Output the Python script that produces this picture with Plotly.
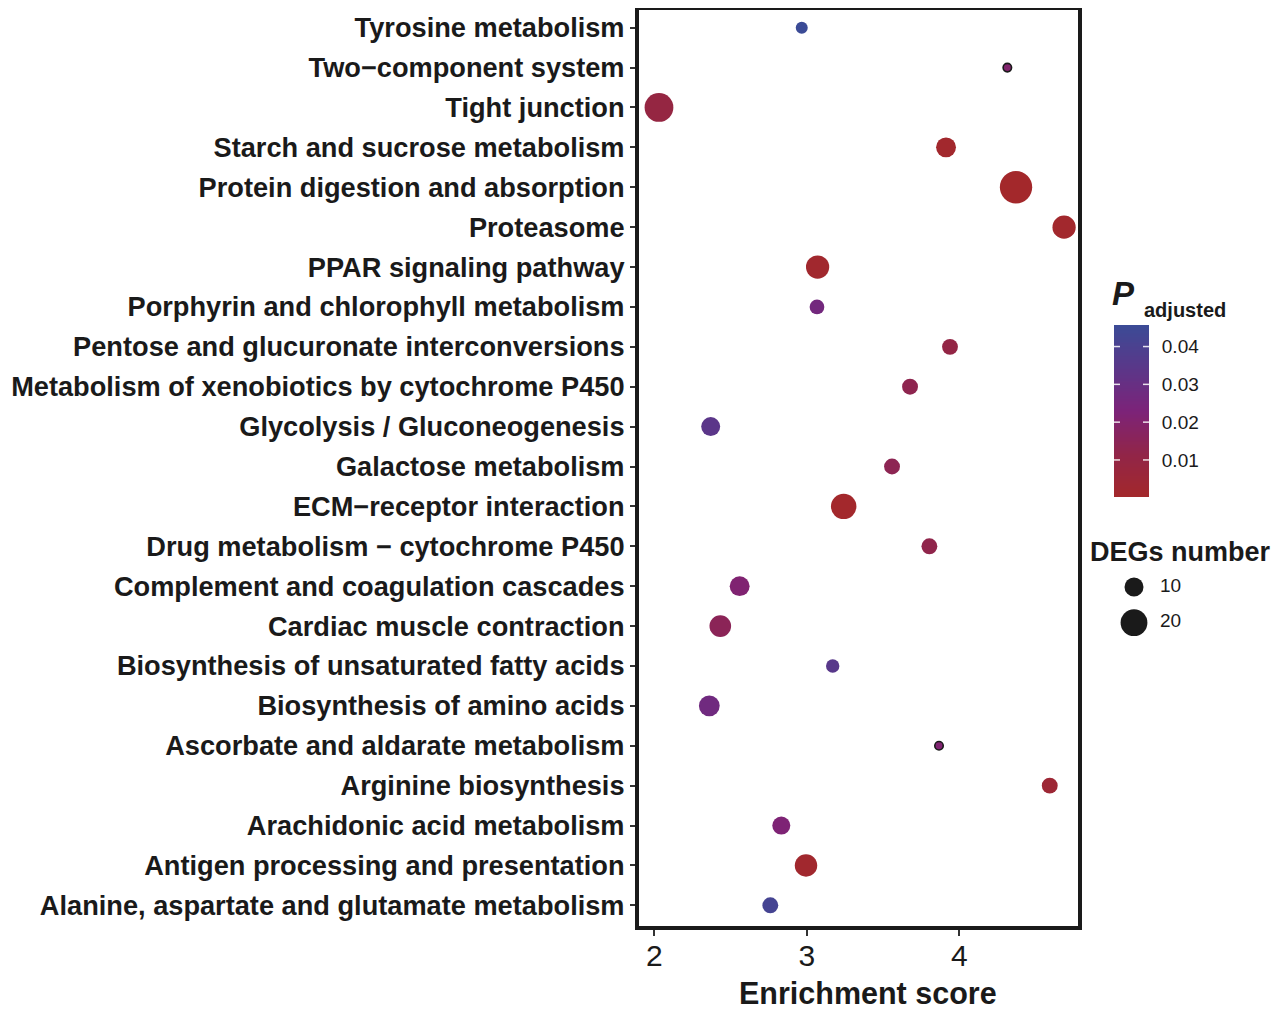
import numpy as np
import plotly.graph_objects as go

# page body has an 8px margin; the figure is sized to fill the rest of the window
OX, OY = 8, 8
W, H = 1272, 1006

# ---- data (bottom -> top order) ----
pathways = [
    "Alanine, aspartate and glutamate metabolism",
    "Antigen processing and presentation",
    "Arachidonic acid metabolism",
    "Arginine biosynthesis",
    "Ascorbate and aldarate metabolism",
    "Biosynthesis of amino acids",
    "Biosynthesis of unsaturated fatty acids",
    "Cardiac muscle contraction",
    "Complement and coagulation cascades",
    "Drug metabolism \u2212 cytochrome P450",
    "ECM\u2212receptor interaction",
    "Galactose metabolism",
    "Glycolysis / Gluconeogenesis",
    "Metabolism of xenobiotics by cytochrome P450",
    "Pentose and glucuronate interconversions",
    "Porphyrin and chlorophyll metabolism",
    "PPAR signaling pathway",
    "Proteasome",
    "Protein digestion and absorption",
    "Starch and sucrose metabolism",
    "Tight junction",
    "Two\u2212component system",
    "Tyrosine metabolism",
]
enrichment = [2.761, 2.995, 2.833, 4.593, 3.867, 2.361, 3.170, 2.433, 2.560, 3.804,
              3.242, 3.559, 2.370, 3.677, 3.939, 3.067, 3.071, 4.687, 4.372, 3.913,
              2.031, 4.315, 2.967]
degs = [7, 14, 9, 7, 2, 12, 5, 13, 11, 7,
        18, 7, 10, 7, 7, 6, 15, 15, 29, 11,
        23, 2, 4]
padj = [0.042, 0.0015, 0.022, 0.004, 0.021, 0.027, 0.035, 0.015, 0.021, 0.012,
        0.0005, 0.014, 0.034, 0.013, 0.010, 0.026, 0.0012, 0.0008, 0.0002, 0.001,
        0.009, 0.020, 0.0457]
outlined = [False, False, False, False, True, False, False, False, False, False,
            False, False, False, False, False, False, False, False, False, False,
            False, True, False]

size_legend = [10, 20]
cbar_ticks = [0.01, 0.02, 0.03, 0.04]
x_ticks = [2, 3, 4]

colorscale = [
    [0.0, "#a3282b"],
    [0.25, "#912549"],
    [0.5, "#7c2379"],
    [0.75, "#5a3789"],
    [1.0, "#3b4b96"],
]

TXT = "#1a1a1a"
FONT = "Liberation Sans, Arial, sans-serif"


def px_x(px):
    return (px - OX) / W


def px_y(py):
    return 1 - (py - OY) / H


# plot-area edges in screen pixels (axis lines are drawn just outside these)
PL, PR, PT, PB = 639, 1077.5, 10, 926
ROW_TOP, ROW_BOTTOM = 27.7, 905.3
n_rows = len(pathways)
row_step = (ROW_BOTTOM - ROW_TOP) / (n_rows - 1)
y_range = [-(PB - ROW_BOTTOM) / row_step, n_rows - 1 + (ROW_TOP - PT) / row_step]

# colour bar geometry (screen px)
CB_L, CB_W, CB_T, CB_LEN = 1114, 35, 325, 172
cmin, cmax = min(padj), max(padj)
ramp = np.linspace(cmin, cmax, 120)

fig = go.Figure()

fig.add_trace(go.Scatter(
    x=enrichment, y=pathways, mode="markers",
    marker=dict(
        size=degs, sizemode="area", sizeref=1 / 18,
        color=padj, colorscale=colorscale,
        cmin=cmin, cmax=cmax, showscale=False,
        line=dict(color=[TXT if o else "rgba(0,0,0,0)" for o in outlined],
                  width=[1.6 if o else 0 for o in outlined]),
        opacity=1,
    ),
    showlegend=False, hoverinfo="skip",
))

# colour bar: gradient ramp over the p.adjust range on a helper axis
fig.add_trace(go.Heatmap(
    z=[[v] for v in ramp], y=ramp, x=[0],
    colorscale=colorscale, zmin=cmin, zmax=cmax, showscale=False,
    xaxis="x3", yaxis="y3", hoverinfo="skip",
))

# size legend (on an invisible helper axis)
fig.add_trace(go.Scatter(
    x=[0.175] * len(size_legend), y=list(range(len(size_legend))),
    mode="markers",
    marker=dict(size=size_legend, sizemode="area", sizeref=1 / 18, color=TXT,
                opacity=1, line=dict(width=0)),
    xaxis="x2", yaxis="y2", showlegend=False, hoverinfo="skip",
))
fig.add_trace(go.Scatter(
    x=[0.5] * len(size_legend), y=list(range(len(size_legend))),
    mode="text", text=[str(v) for v in size_legend], textposition="middle right",
    textfont=dict(family=FONT, size=19, color=TXT),
    xaxis="x2", yaxis="y2", showlegend=False, hoverinfo="skip",
))

# white tick marks inside the colour bar on both edges (ggplot style)
shapes = []
for v in cbar_ticks:
    for x0, x1 in [(0, 6 / CB_W), (1 - 6 / CB_W, 1)]:
        shapes.append(dict(type="line", xref="x3 domain", yref="y3",
                           x0=x0, x1=x1, y0=v, y1=v, layer="above",
                           line=dict(color="rgba(255,255,255,0.85)", width=1.5)))

fig.update_layout(
    width=W, height=H,
    margin=dict(l=0, r=0, t=0, b=0),
    paper_bgcolor="white", plot_bgcolor="white",
    font=dict(family=FONT, color=TXT),
    shapes=shapes,
    xaxis=dict(
        domain=[px_x(PL), px_x(PR)],
        range=[1.9, 4.775],
        tickvals=x_ticks, ticks="outside", ticklen=6, tickwidth=1.5, tickcolor="#333333",
        tickfont=dict(family=FONT, size=30, color=TXT),
        ticklabelstandoff=-6,
        showgrid=False, zeroline=False,
        showline=True, linecolor=TXT, linewidth=4, mirror=True,
        automargin=False, anchor="y",
    ),
    yaxis=dict(
        domain=[px_y(PB), px_y(PT)],
        type="category", categoryorder="array", categoryarray=pathways,
        range=y_range,
        ticks="outside", ticklen=5, tickwidth=1.5, tickcolor="#333333",
        tickfont=dict(family=FONT, size=27.2, color=TXT, weight="bold"),
        showgrid=False, zeroline=False,
        showline=True, linecolor=TXT, linewidth=4, mirror=True,
        automargin=False, anchor="x",
    ),
    xaxis2=dict(domain=[px_x(1120), px_x(1200)], range=[0, 1], visible=False,
                anchor="y2", fixedrange=True),
    yaxis2=dict(domain=[px_y(640.5), px_y(569.2)], range=[1.5, -0.5], visible=False,
                anchor="x2", fixedrange=True),
    xaxis3=dict(domain=[px_x(CB_L), px_x(CB_L + CB_W)], range=[-0.5, 0.5], visible=False,
                anchor="y3", fixedrange=True),
    yaxis3=dict(domain=[px_y(CB_T + CB_LEN), px_y(CB_T)], range=[cmin, cmax],
                anchor="x3", side="right", fixedrange=True,
                tickvals=cbar_ticks, ticktext=[f"{v:.2f}" for v in cbar_ticks],
                ticks="outside", ticklen=8, tickcolor="rgba(0,0,0,0)",
                tickfont=dict(family=FONT, size=19, color=TXT),
                showgrid=False, zeroline=False, showline=False, automargin=False),
    annotations=[
        dict(text="<b>Enrichment score</b>", x=px_x(868), y=px_y(993), xref="paper", yref="paper",
             xanchor="center", yanchor="middle", showarrow=False, borderpad=0,
             font=dict(family=FONT, size=30.5, color=TXT)),
        dict(text="<b><i>P</i></b>", x=px_x(1110), y=px_y(293), xref="paper", yref="paper",
             xanchor="left", yanchor="middle", showarrow=False,
             font=dict(family=FONT, size=33, color=TXT)),
        dict(text="<b>adjusted</b>", x=px_x(1142), y=px_y(310), xref="paper", yref="paper",
             xanchor="left", yanchor="middle", showarrow=False,
             font=dict(family=FONT, size=20, color=TXT)),
        dict(text="<b>DEGs number</b>", x=px_x(1088), y=px_y(552), xref="paper", yref="paper",
             xanchor="left", yanchor="middle", showarrow=False,
             font=dict(family=FONT, size=27, color=TXT)),
    ],
)

fig.write_html("out.html")
